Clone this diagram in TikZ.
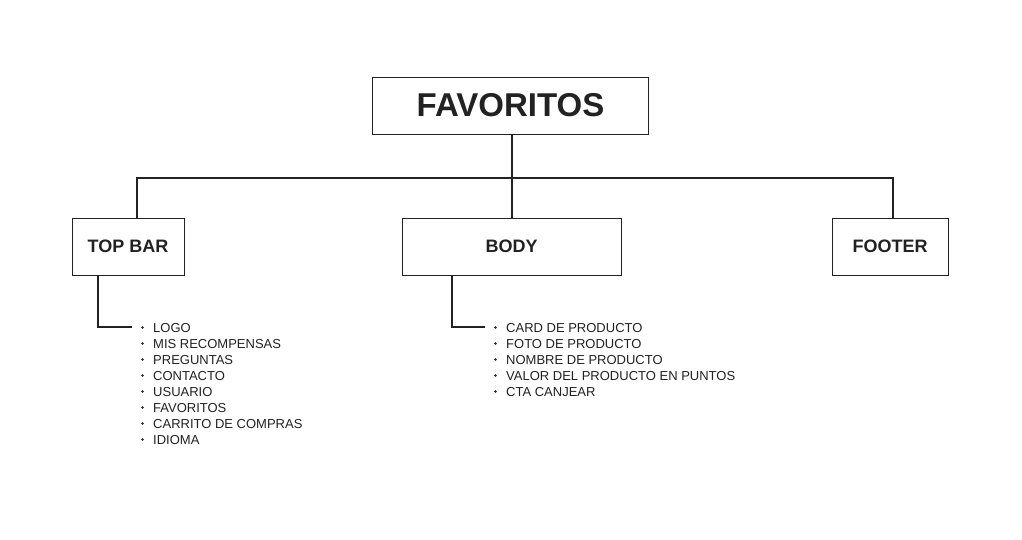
\documentclass[tikz,border=0pt]{standalone}
\usepackage{fontspec}
\setmainfont{Liberation Sans}
\definecolor{ink}{HTML}{222222}
\begin{document}
\begin{tikzpicture}[x=1pt,y=1pt,
  box/.style={draw=ink, line width=0.9pt, minimum height=57pt, inner sep=0pt, text=ink, font=\bfseries\fontsize{18}{18}\selectfont},
  conn/.style={draw=ink, line width=2pt},
  item/.style={anchor=west, inner sep=0pt, text=ink, font=\fontsize{13}{13}\selectfont},
  dot/.style={fill=ink, circle, inner sep=0pt, minimum size=2.6pt}]
\useasboundingbox[fill=white] (0,0) rectangle (1022,-540);
\node[box, minimum width=276pt, font=\bfseries\fontsize{33}{33}\selectfont] (fav) at (510.5,-105.5) {FAVORITOS};
\node[box, minimum width=112pt] (top) at (128,-246.5) {TOP BAR};
\node[box, minimum width=219pt] (body) at (511.5,-246.5) {BODY};
\node[box, minimum width=116pt] (foot) at (890,-246.5) {FOOTER};
\coordinate (hl) at (137,-178);
\coordinate (hr) at (893,-178);
\draw[conn] (fav.south -| body.north) -- (body.north);
\draw[conn] (top.north -| hl) -- (hl) -- (hr) -- (foot.north -| hr);
\coordinate (tl) at (132,-327);
\coordinate (bl) at (485,-327);
\draw[conn] ([xshift=26pt]top.south west) |- (tl);
\draw[conn] ([xshift=50pt]body.south west) |- (bl);
\foreach \t [count=\i from 0] in {LOGO,MIS RECOMPENSAS,PREGUNTAS,CONTACTO,USUARIO,FAVORITOS,CARRITO DE COMPRAS,IDIOMA}{
  \node[item] (ti\i) at (153,-328-16*\i) {\t};
  \node[dot] (td\i) at (142.5,-327.5-16*\i) {};
}
\foreach \t [count=\i from 0] in {CARD DE PRODUCTO,FOTO DE PRODUCTO,NOMBRE DE PRODUCTO,VALOR DEL PRODUCTO EN PUNTOS,CTA CANJEAR}{
  \node[item] (bi\i) at (506,-328-16*\i) {\t};
  \node[dot] (bd\i) at (495.5,-327.5-16*\i) {};
}
\end{tikzpicture}
\end{document}
